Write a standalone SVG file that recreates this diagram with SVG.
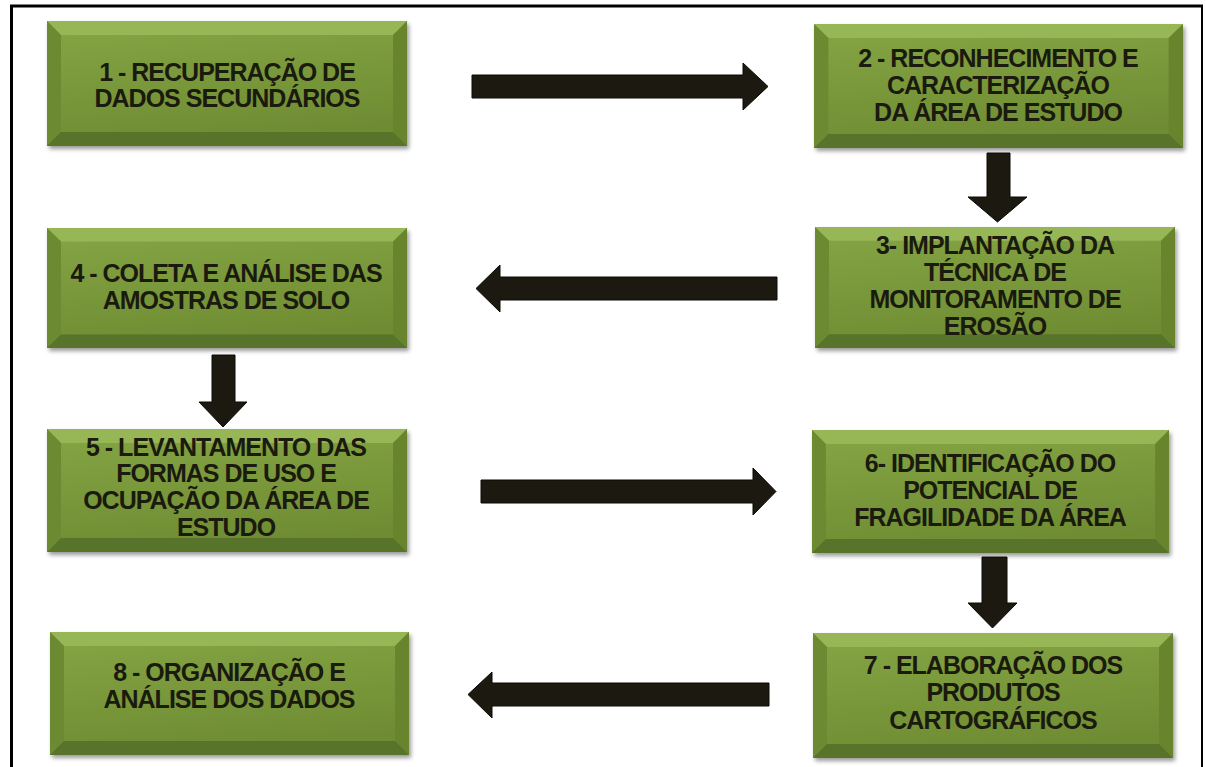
<svg xmlns="http://www.w3.org/2000/svg" xmlns:xlink="http://www.w3.org/1999/xlink" width="1206" height="767" viewBox="0 0 1206 767">
<style>
.t{font-family:"Liberation Sans",Arial,sans-serif;font-weight:bold;font-size:25px;letter-spacing:-1px;fill:#1a1a0e;text-anchor:middle}
.arr{fill:#1c1910;stroke:#0c0b06;stroke-width:1;stroke-linejoin:miter}
.frame{stroke:#000;fill:none}
</style>
<defs>
<linearGradient id="face" x1="0" y1="0" x2="0.25" y2="1">
<stop offset="0" stop-color="#86a546"/>
<stop offset="0.5" stop-color="#7a993b"/>
<stop offset="1" stop-color="#6f8c33"/>
</linearGradient>
<filter id="shadow" x="-5%" y="-5%" width="112%" height="120%">
<feGaussianBlur in="SourceAlpha" stdDeviation="2"/>
<feOffset dx="2" dy="3" result="b"/>
<feComponentTransfer><feFuncA type="linear" slope="0.4"/></feComponentTransfer>
<feMerge><feMergeNode/><feMergeNode in="SourceGraphic"/></feMerge>
</filter>
<symbol id="box" viewBox="0 0 360 124" preserveAspectRatio="none">
<rect x="0" y="0" width="360" height="124" fill="url(#face)"/>
<polygon points="0,0 360,0 346,14 14,14" fill="#97b657"/>
<polygon points="0,0 14,14 14,110 0,124" fill="#6c8a32"/>
<polygon points="360,0 360,124 346,110 346,14" fill="#67852d"/>
<polygon points="0,124 14,110 346,110 360,124" fill="#58732a"/>
</symbol>
</defs>
<rect width="1206" height="767" fill="#fff"/>
<g id="frame">
<line class="frame" x1="10" y1="6" x2="1203" y2="6" stroke-width="3"/>
<line class="frame" x1="11.5" y1="5" x2="11.5" y2="767" stroke-width="3"/>
<line class="frame" x1="1202" y1="5" x2="1202" y2="767" stroke-width="2"/>
</g>
<g id="n1">
<use xlink:href="#box" x="47" y="21" width="360" height="125" filter="url(#shadow)"/>
<text class="t" x="227" y="81">1 - RECUPERAÇÃO DE</text>
<text class="t" x="227" y="107">DADOS SECUNDÁRIOS</text>
</g>
<g id="n2">
<use xlink:href="#box" x="814" y="24" width="369" height="124" filter="url(#shadow)"/>
<text class="t" x="998" y="67">2 - RECONHECIMENTO E</text>
<text class="t" x="998" y="94">CARACTERIZAÇÃO</text>
<text class="t" x="998" y="121">DA ÁREA DE ESTUDO</text>
</g>
<g id="n3">
<use xlink:href="#box" x="815" y="227" width="360" height="121" filter="url(#shadow)"/>
<text class="t" x="995" y="254">3- IMPLANTAÇÃO DA</text>
<text class="t" x="995" y="281">TÉCNICA DE</text>
<text class="t" x="995" y="308">MONITORAMENTO DE</text>
<text class="t" x="995" y="335">EROSÃO</text>
</g>
<g id="n4">
<use xlink:href="#box" x="47" y="228" width="360" height="120" filter="url(#shadow)"/>
<text class="t" x="226" y="282">4 - COLETA E ANÁLISE DAS</text>
<text class="t" x="226" y="309">AMOSTRAS DE SOLO</text>
</g>
<g id="n5">
<use xlink:href="#box" x="47" y="429" width="360" height="123" filter="url(#shadow)"/>
<text class="t" x="226" y="456">5 - LEVANTAMENTO DAS</text>
<text class="t" x="226" y="482">FORMAS DE USO E</text>
<text class="t" x="226" y="509">OCUPAÇÃO DA ÁREA DE</text>
<text class="t" x="226" y="536">ESTUDO</text>
</g>
<g id="n6">
<use xlink:href="#box" x="812" y="430" width="357" height="123" filter="url(#shadow)"/>
<text class="t" x="990" y="472">6- IDENTIFICAÇÃO DO</text>
<text class="t" x="990" y="499">POTENCIAL DE</text>
<text class="t" x="990" y="526">FRAGILIDADE DA ÁREA</text>
</g>
<g id="n7">
<use xlink:href="#box" x="813" y="633" width="360" height="125" filter="url(#shadow)"/>
<text class="t" x="993" y="674">7 - ELABORAÇÃO DOS</text>
<text class="t" x="993" y="701">PRODUTOS</text>
<text class="t" x="993" y="729">CARTOGRÁFICOS</text>
</g>
<g id="n8">
<use xlink:href="#box" x="50" y="632" width="359" height="123" filter="url(#shadow)"/>
<text class="t" x="229" y="681">8 - ORGANIZAÇÃO E</text>
<text class="t" x="229" y="708">ANÁLISE DOS DADOS</text>
</g>
<g id="connectors">
<polygon class="arr" points="472,75 743,75 743,63 768,86.5 743,110 743,98 472,98"/>
<polygon class="arr" points="987,153 1010,153 1010,197 1027,197 997.5,222 968,197 987,197"/>
<polygon class="arr" points="777,277 500,277 500,265 476,288.5 500,312 500,300 777,300"/>
<polygon class="arr" points="212,355 235,355 235,402 247,402 223,427 199,402 212,402"/>
<polygon class="arr" points="481,480 753,480 753,468 776,491.5 753,515 753,503 481,503"/>
<polygon class="arr" points="982,557 1007,557 1007,603 1017,603 992.5,628 968,603 982,603"/>
<polygon class="arr" points="769,683 492,683 492,672 468,694.5 492,718 492,706 769,706"/>
</g>
</svg>
